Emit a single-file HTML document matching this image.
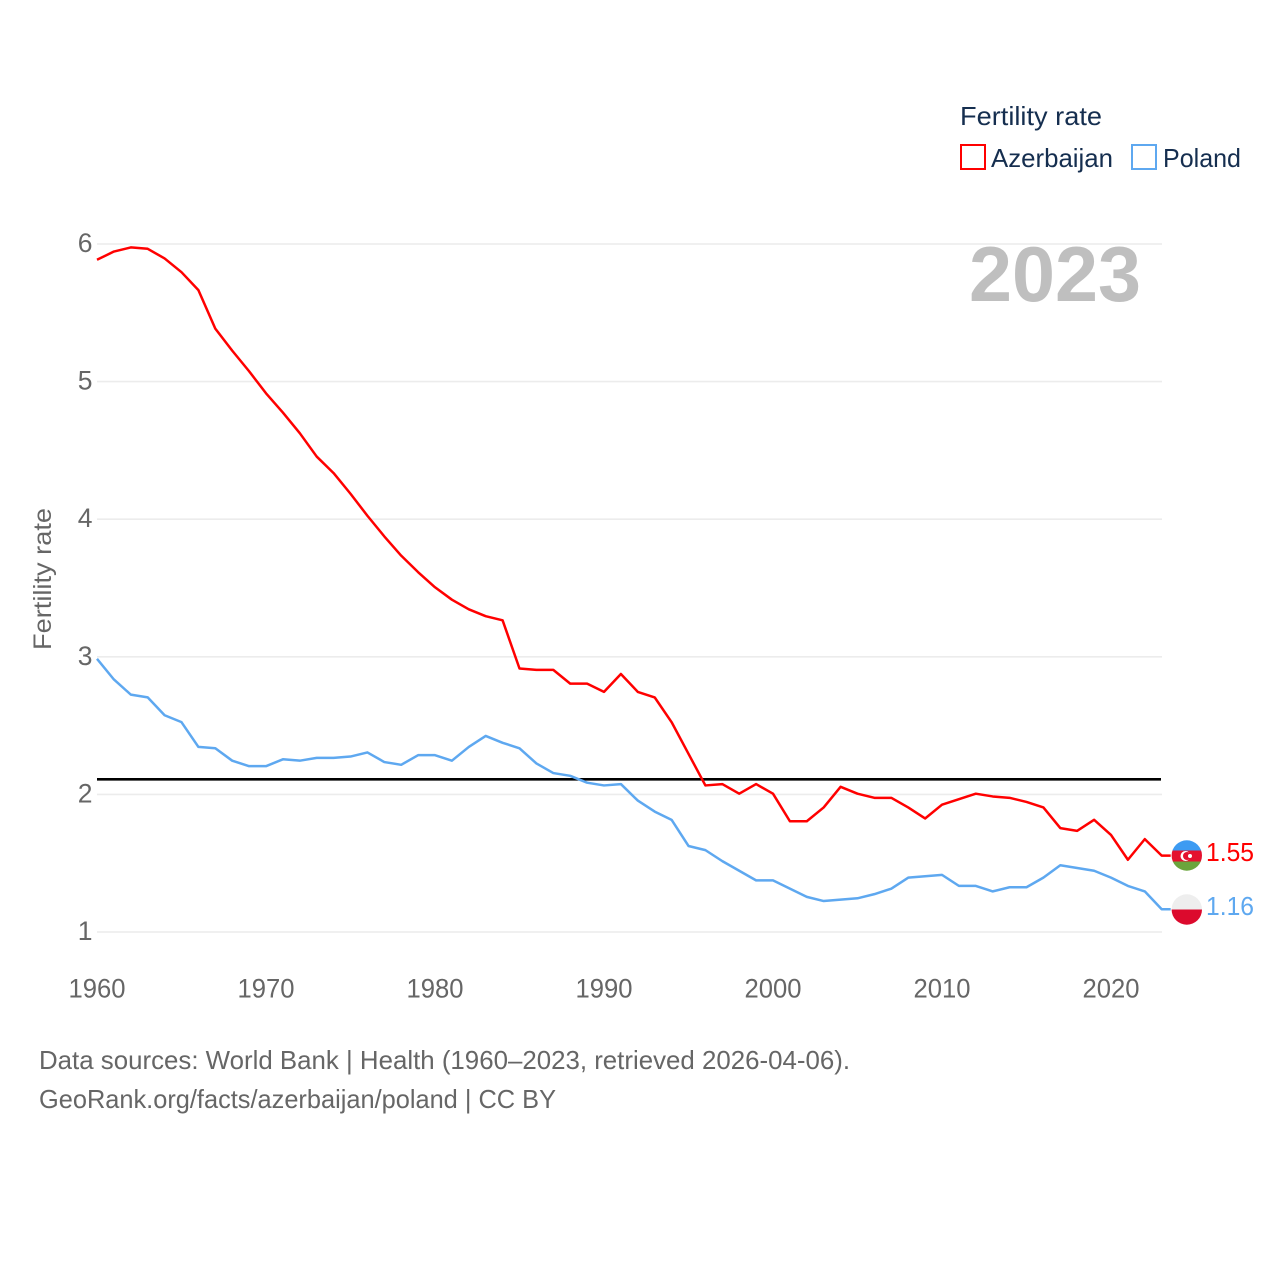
<!DOCTYPE html>
<html lang="en">
<head>
<meta charset="utf-8">
<title>Fertility rate: Azerbaijan and Poland</title>
<style>
html,body{margin:0;padding:0;background:#fff;}
svg{display:block;font-family:"Liberation Sans",sans-serif;}
</style>
</head>
<body>
<svg id="chart" width="1280" height="1280" viewBox="0 0 1280 1280" xmlns="http://www.w3.org/2000/svg">
  <rect x="0" y="0" width="1280" height="1280" fill="#fff"/>
  <defs>
    <clipPath id="clip-az"><circle cx="1186.8" cy="855.5" r="15.2"/></clipPath>
    <clipPath id="clip-pl"><circle cx="1186.8" cy="909.5" r="15.2"/></clipPath>
  </defs>
  <g id="grid"></g>
  <g id="yticks"></g>
  <g id="xticks"></g>
  <text transform="translate(51,579) rotate(-90)" text-anchor="middle" font-size="25" fill="#666" textLength="142" lengthAdjust="spacingAndGlyphs">Fertility rate</text>
  <text x="969" y="301" font-size="78" font-weight="bold" fill="#bfbfbf" textLength="172" lengthAdjust="spacingAndGlyphs">2023</text>
  <g id="series"></g>

  <g>
    <text x="960" y="125" font-size="26" fill="#152e4f" textLength="142" lengthAdjust="spacingAndGlyphs">Fertility rate</text>
    <rect x="961" y="145" width="24" height="24" fill="#fff" stroke="#ff0000" stroke-width="2"/>
    <text x="991" y="167" font-size="26" fill="#152e4f" textLength="122" lengthAdjust="spacingAndGlyphs">Azerbaijan</text>
    <rect x="1132" y="145" width="24" height="24" fill="#fff" stroke="#5ea8f0" stroke-width="2"/>
    <text x="1163" y="167" font-size="26" fill="#152e4f" textLength="78" lengthAdjust="spacingAndGlyphs">Poland</text>
  </g>

  <g clip-path="url(#clip-az)">
    <rect x="1170" y="839" width="34" height="11.5" fill="#3d9bf2"/>
    <rect x="1170" y="850.5" width="34" height="11" fill="#e4112f"/>
    <rect x="1170" y="861.5" width="34" height="11" fill="#6aa53c"/>
    <circle cx="1185.5" cy="856" r="5" fill="#fff"/>
    <circle cx="1187" cy="856" r="4" fill="#e4112f"/>
    <circle cx="1190" cy="856" r="2" fill="#fff"/>
  </g>
  <g clip-path="url(#clip-pl)">
    <rect x="1170" y="893" width="34" height="16.5" fill="#eeeeee"/>
    <rect x="1170" y="909.5" width="34" height="17" fill="#dc0a2d"/>
  </g>
  <text id="value-az" x="1206" y="861" font-size="26" fill="#ff0000" textLength="48" lengthAdjust="spacingAndGlyphs"></text>
  <text id="value-pl" x="1206" y="915" font-size="26" fill="#5ea8f0" textLength="48" lengthAdjust="spacingAndGlyphs"></text>

  <text x="39" y="1069" font-size="26" fill="#666" textLength="811" lengthAdjust="spacingAndGlyphs">Data sources: World Bank | Health (1960–2023, retrieved 2026-04-06).</text>
  <text x="39" y="1108" font-size="26" fill="#666" textLength="517" lengthAdjust="spacingAndGlyphs">GeoRank.org/facts/azerbaijan/poland | CC BY</text>
</svg>
<script>
const startYear = 1960;
const xTickYears = [1960, 1970, 1980, 1990, 2000, 2010, 2020];
const yTickValues = [1, 2, 3, 4, 5, 6];
const referenceValue = 2.11;
const azerbaijanValues = [
  5.88, 5.94, 5.97, 5.96, 5.89, 5.79, 5.66, 5.38, 5.22, 5.07,
  4.91, 4.77, 4.62, 4.45, 4.33, 4.18, 4.02, 3.87, 3.73, 3.61,
  3.50, 3.41, 3.34, 3.29, 3.26, 2.91, 2.90, 2.90, 2.80, 2.80,
  2.74, 2.87, 2.74, 2.70, 2.52, 2.29, 2.06, 2.07, 2.00, 2.07,
  2.00, 1.80, 1.80, 1.90, 2.05, 2.00, 1.97, 1.97, 1.90, 1.82,
  1.92, 1.96, 2.00, 1.98, 1.97, 1.94, 1.90, 1.75, 1.73, 1.81,
  1.70, 1.52, 1.67, 1.55
];
const polandValues = [
  2.98, 2.83, 2.72, 2.70, 2.57, 2.52, 2.34, 2.33, 2.24, 2.20,
  2.20, 2.25, 2.24, 2.26, 2.26, 2.27, 2.30, 2.23, 2.21, 2.28,
  2.28, 2.24, 2.34, 2.42, 2.37, 2.33, 2.22, 2.15, 2.13, 2.08,
  2.06, 2.07, 1.95, 1.87, 1.81, 1.62, 1.59, 1.51, 1.44, 1.37,
  1.37, 1.31, 1.25, 1.22, 1.23, 1.24, 1.27, 1.31, 1.39, 1.40,
  1.41, 1.33, 1.33, 1.29, 1.32, 1.32, 1.39, 1.48, 1.46, 1.44,
  1.39, 1.33, 1.29, 1.16
];

const NS = 'http://www.w3.org/2000/svg';
const xScale = function (year) { return 97 + (year - 1960) * 16.9; };
const yScale = function (v) { return 932 - (v - 1) * 137.6; };

function make(parent, tag, attrs, text) {
  const el = document.createElementNS(NS, tag);
  Object.keys(attrs).forEach(function (k) { el.setAttribute(k, attrs[k]); });
  if (text !== undefined) el.textContent = text;
  parent.appendChild(el);
  return el;
}

const gridGroup = document.getElementById('grid');
const yGroup = document.getElementById('yticks');
const xGroup = document.getElementById('xticks');
const seriesGroup = document.getElementById('series');
const lastX = xScale(startYear + azerbaijanValues.length - 1);

yTickValues.forEach(function (v) {
  const line = make(gridGroup, 'line', { x1: 97, x2: 1162, y1: yScale(v), y2: yScale(v), stroke: '#ececec', 'stroke-width': 1.6 });
  
  
  const label = make(yGroup, 'text', { x: 92.5, y: yScale(v) + 8, 'text-anchor': 'end', 'font-size': 26.5, fill: '#666' }, String(v));
  
  
});

xTickYears.forEach(function (year) {
  const label = make(xGroup, 'text', { x: xScale(year), y: 997.5, 'text-anchor': 'middle', 'font-size': 26.5, fill: '#666', textLength: 57, lengthAdjust: 'spacingAndGlyphs' }, String(year));
  
  
});

function drawSeries(values, color, name) {
  const pts = values.map(function (v, i) {
    return xScale(startYear + i).toFixed(2) + ',' + yScale(v).toFixed(2);
  });
  const last = values[values.length - 1];
  pts.push((lastX + 9).toFixed(2) + ',' + yScale(last).toFixed(2));
  const line = make(seriesGroup, 'polyline', { points: pts.join(' '), fill: 'none', stroke: color, 'stroke-width': 2.5, 'stroke-linejoin': 'round', transform: 'translate(0,-0.7)' });
  
  
}

const refLine = make(seriesGroup, 'line', { x1: 97, x2: 1161, y1: yScale(referenceValue), y2: yScale(referenceValue), stroke: '#000', 'stroke-width': 2.6 });



drawSeries(polandValues, '#5ea8f0', 'series-poland');
drawSeries(azerbaijanValues, '#ff0000', 'series-azerbaijan');

document.getElementById('value-az').textContent = azerbaijanValues[azerbaijanValues.length - 1].toFixed(2);
document.getElementById('value-pl').textContent = polandValues[polandValues.length - 1].toFixed(2);
</script>
</body>
</html>
